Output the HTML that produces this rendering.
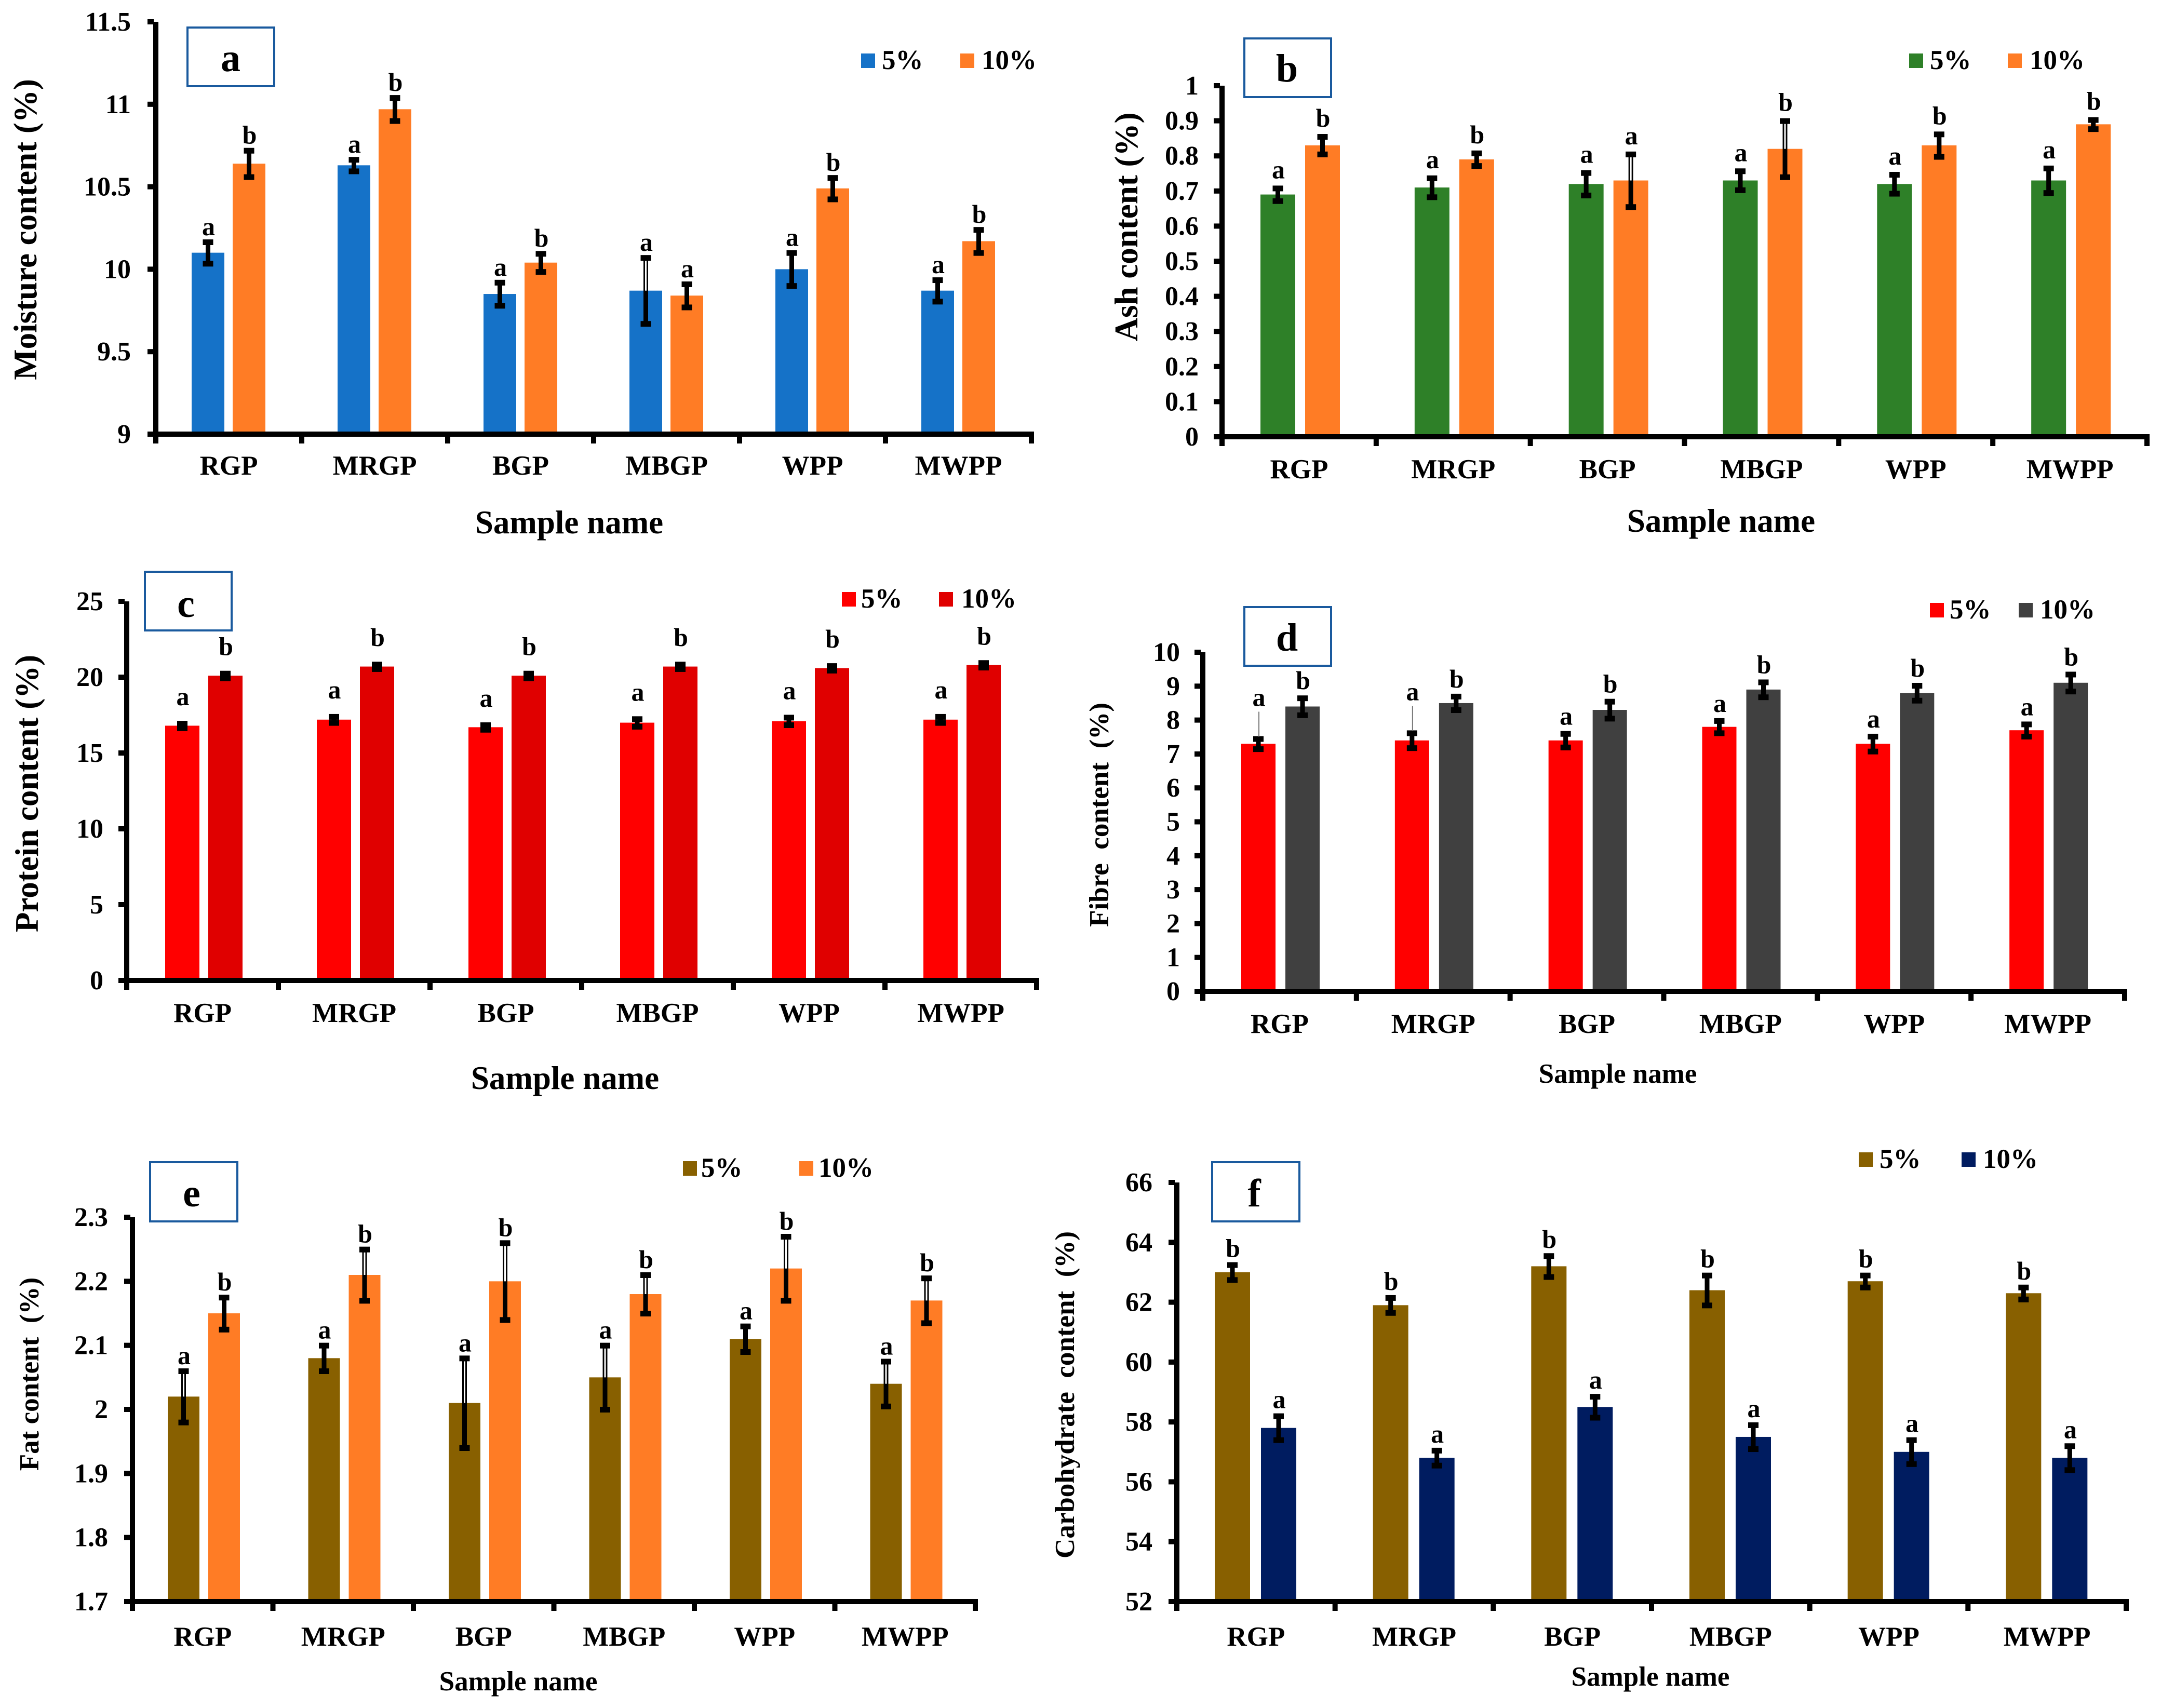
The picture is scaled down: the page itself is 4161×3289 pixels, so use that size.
<!DOCTYPE html>
<html lang="en">
<head>
<meta charset="utf-8">
<title>Proximate composition bar charts</title>
<style>
html,body{margin:0;padding:0;background:#fff;}
svg{display:block;}
text{font-family:"Liberation Serif",serif;font-weight:bold;fill:#000;white-space:pre;}
.box{fill:#fff;stroke:#1a5a9e;stroke-width:4;}
.panel-letter{font-size:76px;text-anchor:middle;}
.title{font-size:63px;text-anchor:middle;}
.title-small{font-size:53px;text-anchor:middle;}
.legend{font-size:53px;}
</style>
</head>
<body>
<svg id="figure" xmlns="http://www.w3.org/2000/svg" width="4161" height="3289" viewBox="0 0 4161 3289">
<rect x="0" y="0" width="4161" height="3289" fill="#fff"/>

<g id="chart-a"></g>
<g>
  <rect class="box" x="361" y="53" width="167" height="113"/>
  <text class="panel-letter" x="444" y="137">a</text>
  <text class="title" transform="translate(70 442) rotate(-90)">Moisture content (%)</text>
  <text class="title" x="1096" y="1027">Sample name</text>
  <rect x="1658" y="103" width="27" height="28" fill="#1572c8"/>
  <text class="legend" x="1698" y="133">5%</text>
  <rect x="1849" y="103" width="27" height="28" fill="#ff7c25"/>
  <text class="legend" x="1890" y="133">10%</text>
</g>

<g id="chart-b"></g>
<g>
  <rect class="box" x="2396" y="74" width="167" height="113"/>
  <text class="panel-letter" x="2478" y="157">b</text>
  <text class="title" transform="translate(2190 437) rotate(-90)">Ash content (%)</text>
  <text class="title" x="3314" y="1024">Sample name</text>
  <rect x="3676" y="103" width="27" height="28" fill="#2e8028"/>
  <text class="legend" x="3716" y="133">5%</text>
  <rect x="3866" y="103" width="27" height="28" fill="#ff7c25"/>
  <text class="legend" x="3908" y="133">10%</text>
</g>

<g id="chart-c"></g>
<g>
  <rect class="box" x="279" y="1101" width="167" height="113"/>
  <text class="panel-letter" x="358" y="1188">c</text>
  <text class="title" transform="translate(73 1528) rotate(-90)">Protein content (%)</text>
  <text class="title" x="1088" y="2097">Sample name</text>
  <rect x="1621" y="1140" width="27" height="28" fill="#ff0000"/>
  <text class="legend" x="1658" y="1170">5%</text>
  <rect x="1808" y="1140" width="27" height="28" fill="#e00000"/>
  <text class="legend" x="1851" y="1170">10%</text>
</g>

<g id="chart-d"></g>
<g>
  <rect class="box" x="2396" y="1169" width="167" height="113"/>
  <text class="panel-letter" x="2478" y="1253">d</text>
  <text class="title-small" transform="translate(2134 1569) rotate(-90)">Fibre  content  (%)</text>
  <text class="title-small" x="3115" y="2085">Sample name</text>
  <rect x="3716" y="1161" width="27" height="28" fill="#ff0000"/>
  <text class="legend" x="3754" y="1191">5%</text>
  <rect x="3887" y="1161" width="27" height="28" fill="#404040"/>
  <text class="legend" x="3928" y="1191">10%</text>
</g>

<g id="chart-e"></g>
<g>
  <rect class="box" x="289" y="2238" width="168" height="114"/>
  <text class="panel-letter" x="369" y="2323">e</text>
  <text class="title-small" transform="translate(74 2646) rotate(-90)">Fat content  (%)</text>
  <text class="title-small" x="998" y="3255">Sample name</text>
  <rect x="1315" y="2236" width="27" height="28" fill="#886000"/>
  <text class="legend" x="1350" y="2266">5%</text>
  <rect x="1539" y="2236" width="27" height="28" fill="#ff7c25"/>
  <text class="legend" x="1576" y="2266">10%</text>
</g>

<g id="chart-f"></g>
<g>
  <rect class="box" x="2334" y="2238" width="168" height="114"/>
  <text class="panel-letter" x="2415" y="2323">f</text>
  <text class="title-small" transform="translate(2068 2686) rotate(-90)">Carbohydrate  content  (%)</text>
  <text class="title-small" x="3178" y="3246">Sample name</text>
  <rect x="3579" y="2219" width="27" height="28" fill="#886000"/>
  <text class="legend" x="3619" y="2249">5%</text>
  <rect x="3777" y="2219" width="27" height="28" fill="#001c60"/>
  <text class="legend" x="3818" y="2249">10%</text>
</g>
</svg>

<script>
const categories = ['RGP', 'MRGP', 'BGP', 'MBGP', 'WPP', 'MWPP'];

const moistureTicks = ['9', '9.5', '10', '10.5', '11', '11.5'];
const moisture5 = [10.1, 10.63, 9.85, 9.87, 10, 9.87];
const moisture10 = [10.64, 10.97, 10.04, 9.84, 10.49, 10.17];
const moistureErr5 = [0.065, 0.035, 0.07, 0.2, 0.1, 0.065];
const moistureErr10 = [0.08, 0.07, 0.055, 0.07, 0.065, 0.07];
const moistureSig5 = ['a', 'a', 'a', 'a', 'a', 'a'];
const moistureSig10 = ['b', 'b', 'b', 'a', 'b', 'b'];

const ashTicks = ['0', '0.1', '0.2', '0.3', '0.4', '0.5', '0.6', '0.7', '0.8', '0.9', '1'];
const ash5 = [0.69, 0.71, 0.72, 0.73, 0.72, 0.73];
const ash10 = [0.83, 0.79, 0.73, 0.82, 0.83, 0.89];
const ashErr5 = [0.018, 0.027, 0.032, 0.027, 0.027, 0.035];
const ashErr10 = [0.025, 0.018, 0.075, 0.08, 0.032, 0.013];
const ashSig5 = ['a', 'a', 'a', 'a', 'a', 'a'];
const ashSig10 = ['b', 'b', 'a', 'b', 'b', 'b'];

const proteinTicks = ['0', '5', '10', '15', '20', '25'];
const protein5 = [16.8, 17.2, 16.7, 17, 17.1, 17.2];
const protein10 = [20.1, 20.7, 20.1, 20.7, 20.6, 20.8];
const proteinErr5 = [0.15, 0.2, 0.15, 0.25, 0.25, 0.2];
const proteinErr10 = [0.15, 0.15, 0.15, 0.15, 0.15, 0.15];
const proteinSig5 = ['a', 'a', 'a', 'a', 'a', 'a'];
const proteinSig10 = ['b', 'b', 'b', 'b', 'b', 'b'];

const fibreTicks = ['0', '1', '2', '3', '4', '5', '6', '7', '8', '9', '10'];
const fibre5 = [7.3, 7.4, 7.4, 7.8, 7.3, 7.7];
const fibre10 = [8.4, 8.5, 8.3, 8.9, 8.8, 9.1];
const fibreErr5 = [0.15, 0.22, 0.2, 0.18, 0.22, 0.18];
const fibreErr10 = [0.25, 0.2, 0.25, 0.22, 0.22, 0.25];
const fibreSig5 = ['a', 'a', 'a', 'a', 'a', 'a'];
const fibreSig10 = ['b', 'b', 'b', 'b', 'b', 'b'];
const fibreLeader5 = [true, true, false, false, false, false];

const fatTicks = ['1.7', '1.8', '1.9', '2', '2.1', '2.2', '2.3'];
const fat5 = [2.02, 2.08, 2.01, 2.05, 2.11, 2.04];
const fat10 = [2.15, 2.21, 2.2, 2.18, 2.22, 2.17];
const fatErr5 = [0.04, 0.02, 0.07, 0.05, 0.02, 0.035];
const fatErr10 = [0.025, 0.04, 0.06, 0.03, 0.05, 0.035];
const fatSig5 = ['a', 'a', 'a', 'a', 'a', 'a'];
const fatSig10 = ['b', 'b', 'b', 'b', 'b', 'b'];

const carbTicks = ['52', '54', '56', '58', '60', '62', '64', '66'];
const carb5 = [63, 61.9, 63.2, 62.4, 62.7, 62.3];
const carb10 = [57.8, 56.8, 58.5, 57.5, 57, 56.8];
const carbErr5 = [0.25, 0.25, 0.35, 0.5, 0.2, 0.2];
const carbErr10 = [0.4, 0.25, 0.35, 0.4, 0.4, 0.4];
const carbSig5 = ['b', 'b', 'b', 'b', 'b', 'b'];
const carbSig10 = ['a', 'a', 'a', 'a', 'a', 'a'];

const SVG_NS = 'http://www.w3.org/2000/svg';

function make(tag, attrs, parent) {
  const node = document.createElementNS(SVG_NS, tag);
  for (const key in attrs) node.setAttribute(key, attrs[key]);
  parent.appendChild(node);
  return node;
}

function drawChart(layout) {
  const root = document.getElementById(layout.id);
  const tickValues = layout.ticks.map(Number);
  const minV = tickValues[0];
  const maxV = tickValues[tickValues.length - 1];
  const band = (layout.right - layout.left) / categories.length;
  const yScale = v => layout.base - (v - minV) / (maxV - minV) * (layout.base - layout.top);
  const bandStart = i => layout.left + band * i;

  layout.series.forEach(series => {
    series.values.forEach((value, i) => {
      const barX = bandStart(i) + series.offset;
      const barTop = yScale(value);
      const center = barX + layout.barWidth / 2;

      const bar = make('rect', { x: barX, y: barTop, width: layout.barWidth, height: layout.base - barTop, fill: series.color }, root);
      
      

      const hiY = yScale(value + series.err[i]);
      const loY = yScale(value - series.err[i]);

      const stem = make('rect', { x: center - 4.5, y: hiY, width: 9, height: loY - hiY, fill: '#000' }, root);
      
      

      if (barTop - hiY > 35) {
        const core = make('rect', { x: center - 1.5, y: hiY + 6, width: 3, height: barTop - hiY - 6, fill: '#fff' }, root);
        
        
      }

      const capTop = make('rect', { x: center - 10, y: hiY - 5, width: 20, height: 11, fill: '#000' }, root);
      
      

      const capBottom = make('rect', { x: center - 10, y: loY - 5, width: 20, height: 11, fill: '#000' }, root);
      
      

      let gap = layout.sigGap;
      if (series.leaders && series.leaders[i]) {
        gap += 46;
        const leader = make('rect', { x: center, y: hiY - 52, width: 2, height: 48, fill: '#777' }, root);
        
        
      }

      const sig = make('text', { x: center + 1, y: hiY - 5 - gap, 'font-size': 50, 'text-anchor': 'middle' }, root);
      
      
      sig.textContent = series.sig[i];
    });
  });

  const yAxis = make('rect', { x: layout.left - 5, y: layout.top, width: 10, height: layout.base - layout.top + 17, fill: '#000' }, root);
  
  

  const xAxis = make('rect', { x: layout.left - 5, y: layout.base - 5, width: layout.right - layout.left + 10, height: 10, fill: '#000' }, root);
  
  

  layout.ticks.forEach((label, i) => {
    const tickY = yScale(tickValues[i]);

    const yTick = make('rect', { x: layout.left - 16, y: tickY - 5, width: 12, height: 10, fill: '#000' }, root);
    
    

    const yLabel = make('text', { x: layout.tickLabelX, y: tickY + 17, 'font-size': 52, 'text-anchor': 'end' }, root);
    
    
    yLabel.textContent = label;
  });

  for (let i = 0; i <= categories.length; i++) {
    const xTick = make('rect', { x: bandStart(i) - 5, y: layout.base, width: 10, height: 18, fill: '#000' }, root);
    
    
  }

  categories.forEach((name, i) => {
    const catLabel = make('text', { x: bandStart(i) + band / 2, y: layout.base + layout.catDrop, 'font-size': 53, 'text-anchor': 'middle' }, root);
    
    
    catLabel.textContent = name;
  });
}

drawChart({
  id: 'chart-a', left: 300, right: 1986, top: 42, base: 836, barWidth: 63, tickLabelX: 252, catDrop: 78, sigGap: 8, ticks: moistureTicks,
  series: [
    { values: moisture5, err: moistureErr5, sig: moistureSig5, color: '#1572c8', offset: 69 },
    { values: moisture10, err: moistureErr10, sig: moisture10.length ? moistureSig10 : [], color: '#ff7c25', offset: 148 }
  ]
});
drawChart({
  id: 'chart-b', left: 2353, right: 4134, top: 165, base: 841, barWidth: 67, tickLabelX: 2308, catDrop: 80, sigGap: 14, ticks: ashTicks,
  series: [
    { values: ash5, err: ashErr5, sig: ashSig5, color: '#2e8028', offset: 74 },
    { values: ash10, err: ashErr10, sig: ashSig10, color: '#ff7c25', offset: 160 }
  ]
});
drawChart({
  id: 'chart-c', left: 244, right: 1996, top: 1158, base: 1888, barWidth: 66, tickLabelX: 199, catDrop: 80, sigGap: 30, ticks: proteinTicks,
  series: [
    { values: protein5, err: proteinErr5, sig: proteinSig5, color: '#ff0000', offset: 74 },
    { values: protein10, err: proteinErr10, sig: proteinSig10, color: '#e00000', offset: 157 }
  ]
});
drawChart({
  id: 'chart-d', left: 2316, right: 4091, top: 1256, base: 1909, barWidth: 66, tickLabelX: 2272, catDrop: 80, sigGap: 12, ticks: fibreTicks,
  series: [
    { values: fibre5, err: fibreErr5, sig: fibreSig5, color: '#ff0000', offset: 74, leaders: fibreLeader5 },
    { values: fibre10, err: fibreErr10, sig: fibreSig10, color: '#404040', offset: 159 }
  ]
});
drawChart({
  id: 'chart-e', left: 255, right: 1878, top: 2344, base: 3084, barWidth: 61, tickLabelX: 208, catDrop: 85, sigGap: 8, ticks: fatTicks,
  series: [
    { values: fat5, err: fatErr5, sig: fatSig5, color: '#886000', offset: 68 },
    { values: fat10, err: fatErr10, sig: fatSig10, color: '#ff7c25', offset: 146 }
  ]
});
drawChart({
  id: 'chart-f', left: 2266, right: 4094, top: 2277, base: 3084, barWidth: 68, tickLabelX: 2219, catDrop: 85, sigGap: 10, ticks: carbTicks,
  series: [
    { values: carb5, err: carbErr5, sig: carbSig5, color: '#886000', offset: 73 },
    { values: carb10, err: carbErr10, sig: carbSig10, color: '#001c60', offset: 162 }
  ]
});
</script>
</body>
</html>
